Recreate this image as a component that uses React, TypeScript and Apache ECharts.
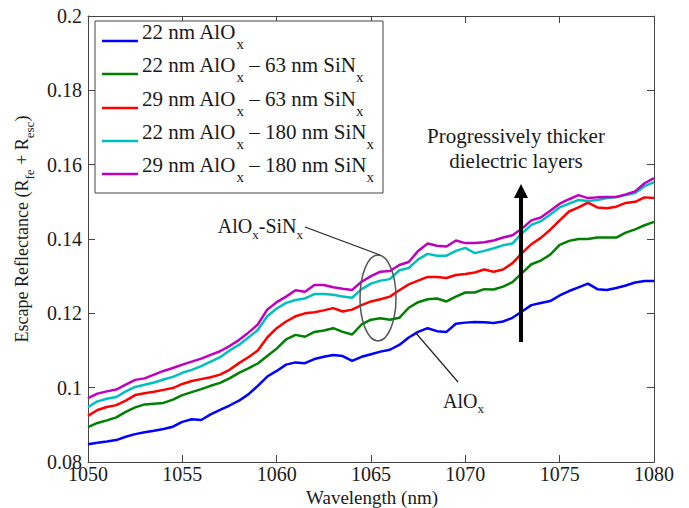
import React, { useEffect, useRef } from "react";
import * as echarts from "echarts";

const wavelength = [
  1050, 1050.5, 1051, 1051.5, 1052, 1052.5, 1053, 1053.5, 1054, 1054.5,
  1055, 1055.5, 1056, 1056.5, 1057, 1057.5, 1058, 1058.5, 1059, 1059.5,
  1060, 1060.5, 1061, 1061.5, 1062, 1062.5, 1063, 1063.5, 1064, 1064.5,
  1065, 1065.5, 1066, 1066.5, 1067, 1067.5, 1068, 1068.5, 1069, 1069.5,
  1070, 1070.5, 1071, 1071.5, 1072, 1072.5, 1073, 1073.5, 1074, 1074.5,
  1075, 1075.5, 1076, 1076.5, 1077, 1077.5, 1078, 1078.5, 1079, 1079.5,
  1080,
];

const alox22 = [
  0.0848, 0.0852, 0.0855, 0.0859, 0.0868, 0.0875, 0.088, 0.0884, 0.0889, 0.0895,
  0.0908, 0.0915, 0.0913, 0.0928, 0.094, 0.0952, 0.0965, 0.0982, 0.1005, 0.103,
  0.1045, 0.1062, 0.1068, 0.1066, 0.1077, 0.1083, 0.1088, 0.1085, 0.1072, 0.1083,
  0.109, 0.1097, 0.1102, 0.1115, 0.1135, 0.115, 0.116, 0.1152, 0.115, 0.1172,
  0.1175, 0.1177, 0.1176, 0.1174, 0.1178, 0.1188, 0.1205, 0.1222, 0.1228, 0.1233,
  0.1248, 0.126, 0.127, 0.128, 0.1265, 0.1263, 0.1268, 0.1275, 0.1283, 0.1287,
  0.1287,
];

const alox22sin63 = [
  0.0894, 0.0905, 0.0912, 0.092, 0.0935, 0.0947, 0.0955, 0.0957, 0.0959, 0.0968,
  0.098, 0.0988, 0.0996, 0.1005, 0.1013, 0.1025, 0.104, 0.1052, 0.1065, 0.1085,
  0.1105, 0.113, 0.1142, 0.1137, 0.115, 0.1154, 0.116, 0.115, 0.1143, 0.117,
  0.1183, 0.1187, 0.1183, 0.1188, 0.1215, 0.123, 0.1238, 0.124, 0.1232, 0.1245,
  0.1256, 0.1256, 0.1265, 0.1264, 0.1272, 0.1284, 0.1308, 0.1332, 0.1342, 0.1358,
  0.1384, 0.1395, 0.14, 0.14, 0.1404, 0.1404, 0.1404, 0.1417, 0.1426, 0.1437,
  0.1446,
];

const alox29sin63 = [
  0.0924, 0.094, 0.0948, 0.0953, 0.0965, 0.098, 0.0985, 0.0989, 0.0994, 0.0999,
  0.101, 0.1018, 0.1023, 0.1028, 0.1035, 0.1048, 0.1066, 0.1082, 0.11, 0.1135,
  0.116, 0.1178, 0.1192, 0.12, 0.1203, 0.1208, 0.1214, 0.1205, 0.121, 0.1222,
  0.1232, 0.1238, 0.1245, 0.1262, 0.1278, 0.1288, 0.1298, 0.1298, 0.1295, 0.1303,
  0.1306, 0.131, 0.1318, 0.1312, 0.1318, 0.1335, 0.1362, 0.1386, 0.1403, 0.1425,
  0.145, 0.1474, 0.1485, 0.1498, 0.1485, 0.1483, 0.1487, 0.1497, 0.15, 0.1512,
  0.151,
];

const alox22sin180 = [
  0.0948, 0.0963, 0.097, 0.0975, 0.099, 0.1002, 0.1008, 0.1014, 0.1022, 0.1029,
  0.104, 0.1048, 0.1058, 0.107, 0.1082, 0.11, 0.1115, 0.1135, 0.1155, 0.1192,
  0.1213, 0.1228, 0.1236, 0.124, 0.1252, 0.1252, 0.125, 0.1245, 0.1242, 0.1265,
  0.128, 0.1288, 0.1292, 0.1316, 0.1322, 0.1345, 0.136, 0.1355, 0.1355, 0.1368,
  0.1376, 0.1362, 0.1368, 0.1375, 0.1383, 0.1388, 0.1415, 0.1438, 0.1448, 0.1466,
  0.1485, 0.1495, 0.1505, 0.1502, 0.1505, 0.151, 0.1513, 0.1518, 0.1524, 0.1542,
  0.1553,
];

const alox29sin180 = [
  0.0972, 0.0984, 0.099, 0.0995, 0.1008, 0.1021, 0.1025, 0.1035, 0.1045, 0.1053,
  0.1062, 0.107, 0.1078, 0.1088, 0.1098, 0.1112, 0.1128, 0.1148, 0.117, 0.121,
  0.123, 0.1245, 0.1262, 0.1258, 0.1276, 0.1276, 0.127, 0.1266, 0.1263, 0.1285,
  0.13, 0.1312, 0.1314, 0.133, 0.1338, 0.1368, 0.1388, 0.1382, 0.138, 0.1396,
  0.1389, 0.1389, 0.1391, 0.1396, 0.1404, 0.141, 0.1428, 0.145, 0.1458, 0.1476,
  0.1495, 0.1507, 0.1518, 0.151, 0.1512, 0.1513, 0.1513, 0.152, 0.1528, 0.155,
  0.1564,
];

const seriesNames = [
  "22 nm AlOx",
  "22 nm AlOx – 63 nm SiNx",
  "29 nm AlOx – 63 nm SiNx",
  "22 nm AlOx – 180 nm SiNx",
  "29 nm AlOx – 180 nm SiNx",
];
// [text, isSubscript]
const legendSegments: [string, boolean][][] = [
  [["22 nm AlO", false], ["x", true]],
  [["22 nm AlO", false], ["x", true], [" – 63 nm SiN", false], ["x", true]],
  [["29 nm AlO", false], ["x", true], [" – 63 nm SiN", false], ["x", true]],
  [["22 nm AlO", false], ["x", true], [" – 180 nm SiN", false], ["x", true]],
  [["29 nm AlO", false], ["x", true], [" – 180 nm SiN", false], ["x", true]],
];
const seriesValues = [alox22, alox22sin63, alox29sin63, alox22sin180, alox29sin180];
const colors = ["#0000ff", "#008000", "#ff0000", "#00bfbf", "#bf00bf"];

const xTicks = { min: 1050, max: 1080, interval: 5 };
const yTicks = { min: 0.08, max: 0.2, interval: 0.02 };

const yNameSegments: [string, boolean][] = [
  ["Escape Reflectance (R", false],
  ["fe", true],
  [" + R", false],
  ["esc", true],
  [")", false],
];
const xName = "Wavelength (nm)";
const arrowNote = "Progressively thicker\ndielectric layers";
const stackNote: [string, boolean][] = [["AlO", false], ["x", true], ["-SiN", false], ["x", true]];
const singleNote: [string, boolean][] = [["AlO", false], ["x", true]];

const FONT = "Liberation Serif";
const AXIS_COLOR = "#444";
const TEXT_COLOR = "#1a1a1a";

let measureCtx: CanvasRenderingContext2D | null = null;
function textWidth(t: string, size: number): number {
  if (!measureCtx) measureCtx = document.createElement("canvas").getContext("2d");
  measureCtx!.font = `${size}px "${FONT}", serif`;
  return measureCtx!.measureText(t).width;
}

function subLabel(
  segs: [string, boolean][],
  mainSize: number,
  subSize: number,
  subDy: number,
  align: "left" | "center" | "right"
): any[] {
  const widths = segs.map(([t, s]) => textWidth(t, s ? subSize : mainSize));
  const total = widths.reduce((a, b) => a + b, 0);
  let x0 = align === "left" ? 0 : align === "center" ? -total / 2 : -total;
  const out: any[] = [];
  segs.forEach(([t, s], i) => {
    const size = s ? subSize : mainSize;
    const trimmed = t.replace(/^\s+/, "");
    const lead = t.length - trimmed.length > 0 ? textWidth(t.slice(0, t.length - trimmed.length), size) : 0;
    out.push({
      type: "text",
      x: x0 + lead,
      y: s ? subDy : 0,
      style: {
        text: trimmed,
        fontSize: size,
        fontFamily: FONT,
        fill: TEXT_COLOR,
        align: "left",
        verticalAlign: "middle",
      },
    });
    x0 += widths[i];
  });
  return out;
}

export default function App() {
  const ref = useRef<HTMLDivElement>(null);

  useEffect(() => {
    const chart = echarts.init(ref.current!, null, { renderer: "svg" });

    const axisCommon = {
      type: "value" as const,
      axisLine: { show: true, lineStyle: { color: AXIS_COLOR, width: 1 } },
      axisTick: { show: true, inside: true, length: 7, lineStyle: { color: AXIS_COLOR } },
      splitLine: { show: false },
    };

    const legendY = [41, 74, 108, 141, 174];
    const legendGraphics: any[] = [
      {
        type: "rect",
        shape: { x: 95, y: 21, width: 288, height: 172 },
        style: { fill: "#fff", stroke: AXIS_COLOR, lineWidth: 1 },
        z: 100,
      },
    ];
    legendY.forEach((ly, i) => {
      legendGraphics.push({
        type: "line",
        shape: { x1: 102, y1: ly, x2: 138, y2: ly },
        style: { stroke: colors[i], lineWidth: 2.5 },
        z: 101,
      });
      legendGraphics.push({
        type: "group",
        x: 142,
        y: ly - 9,
        z: 101,
        children: subLabel(legendSegments[i], 21, 15, 12, "left").map((c) => ({ ...c, z: 101 })),
      });
    });

    const option: any = {
      animation: false,
      backgroundColor: "#fff",
      textStyle: { fontFamily: FONT },
      grid: { left: 88, right: 35, top: 16, bottom: 46, containLabel: false },
      xAxis: [
        {
          ...axisCommon,
          position: "bottom",
          min: xTicks.min,
          max: xTicks.max,
          interval: xTicks.interval,
          axisLabel: {
            show: true,
            color: TEXT_COLOR,
            fontSize: 20,
            fontFamily: FONT,
            lineHeight: 16,
            margin: 4,
            formatter: (v: number) => String(v),
          },
        },
        {
          ...axisCommon,
          position: "top",
          min: xTicks.min,
          max: xTicks.max,
          interval: xTicks.interval,
          axisLabel: { show: false },
        },
      ],
      yAxis: [
        {
          ...axisCommon,
          position: "left",
          min: yTicks.min,
          max: yTicks.max,
          interval: yTicks.interval,
          axisLabel: {
            show: true,
            color: TEXT_COLOR,
            fontSize: 20,
            fontFamily: FONT,
            lineHeight: 14,
            margin: 6,
            formatter: (v: number) => String(parseFloat(v.toFixed(2))),
          },
        },
        {
          ...axisCommon,
          position: "right",
          min: yTicks.min,
          max: yTicks.max,
          interval: yTicks.interval,
          axisLabel: { show: false },
        },
      ],
      series: seriesValues.map((vals, i) => ({
        type: "line",
        name: seriesNames[i],
        data: wavelength.map((w, j) => [w, vals[j]]),
        showSymbol: false,
        symbol: "none",
        lineStyle: { color: colors[i], width: 2.5 },
        itemStyle: { color: colors[i] },
        z: 2 + i,
      })),
      graphic: [
        {
          type: "group",
          x: 22,
          y: 229,
          rotation: Math.PI / 2,
          children: subLabel(yNameSegments, 18, 13, 7, "center"),
        },
        {
          type: "text",
          x: 372,
          y: 497,
          style: {
            text: xName,
            align: "center",
            verticalAlign: "middle",
            fill: TEXT_COLOR,
            fontSize: 19,
            fontFamily: FONT,
            lineHeight: 16,
          },
        },
        {
          type: "text",
          x: 516,
          y: 148,
          z: 50,
          style: {
            text: arrowNote,
            align: "center",
            verticalAlign: "middle",
            fill: TEXT_COLOR,
            fontSize: 21,
            fontFamily: FONT,
            lineHeight: 25,
          },
        },
        {
          type: "line",
          z: 50,
          shape: { x1: 521, y1: 342, x2: 521, y2: 195 },
          style: { stroke: "#000", lineWidth: 4 },
        },
        {
          type: "polygon",
          z: 50,
          shape: { points: [[514, 198], [528, 198], [521, 184]] },
          style: { fill: "#000" },
        },
        {
          type: "ellipse",
          z: 50,
          shape: { cx: 378, cy: 298, rx: 18, ry: 43 },
          style: { fill: "rgba(0,0,0,0)", stroke: "#555", lineWidth: 1.5 },
        },
        {
          type: "line",
          z: 50,
          shape: { x1: 305, y1: 227, x2: 380, y2: 255 },
          style: { stroke: "#222", lineWidth: 1.2 },
        },
        {
          type: "group",
          x: 303,
          y: 226,
          z: 50,
          children: subLabel(stackNote, 20, 13, 8, "right"),
        },
        {
          type: "line",
          z: 50,
          shape: { x1: 415, y1: 332, x2: 458, y2: 382 },
          style: { stroke: "#222", lineWidth: 1.2 },
        },
        {
          type: "group",
          x: 443,
          y: 401,
          z: 50,
          children: subLabel(singleNote, 20, 13, 7, "left"),
        },
        ...legendGraphics,
      ],
    };

    chart.setOption(option);
    return () => chart.dispose();
  }, []);

  return (
    <div
      ref={ref}
      style={{ position: "fixed", left: 0, top: 0, width: 689, height: 508, background: "#fff" }}
    />
  );
}
